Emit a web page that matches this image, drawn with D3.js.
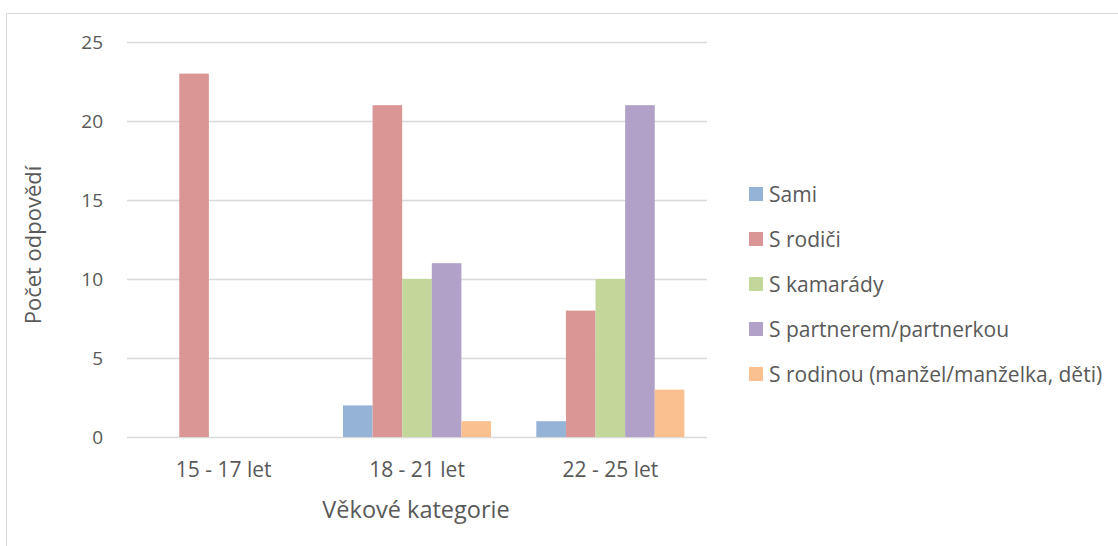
<!DOCTYPE html>
<html>
  <head>
    <meta charset="utf-8">
    <title>Počet odpovědí</title>
    <script src="https://d3js.org/d3.v7.min.js"></script>
    <style>
      body { margin: 0; background: #fff; }
      svg { display: block; font-family: "Open Sans", sans-serif; }
      .tick text { fill: #595959; }
    </style>
  </head>
  <body>
    <svg id="chart" width="1118" height="546"></svg>
    <script>
      // data
      var categories = ["15 - 17 let", "18 - 21 let", "22 - 25 let"];
      var series = ["Sami", "S rodiči", "S kamarády", "S partnerem/partnerkou", "S rodinou (manžel/manželka, děti)"];
      var colours = ["#95b3d7", "#da9694", "#c4d79b", "#b1a0c7", "#fac090"];
      var values = [
        [0, 2, 1],    // Sami
        [23, 21, 8],  // S rodiči
        [0, 10, 10],  // S kamarády
        [0, 11, 21],  // S partnerem/partnerkou
        [0, 1, 3]     // S rodinou
      ];
      var yTicks = [0, 5, 10, 15, 20, 25];

      var chart = d3.select("#chart");
      var margin = { top: 42, left: 127, right: 411, bottom: 109 };
      var width = 1118, height = 546;

      // outer border
      chart.append("rect")
        .attr("x", 6.5).attr("y", 13.5)
        .attr("width", 1130).attr("height", 560)
        .attr("fill", "none")
        .attr("stroke", "#d9d9d9");

      var x0 = d3.scaleBand()
        .domain(categories)
        .range([margin.left, width - margin.right])
        .padding(0);
      var x1 = d3.scaleBand()
        .domain(series)
        .range([0, x0.bandwidth()])
        .paddingInner(0)
        .paddingOuter(0.765);
      var y = d3.scaleLinear()
        .domain([0, 25])
        .range([height - margin.bottom, margin.top]);

      // gridlines
      chart.append("g")
        .selectAll("line")
        .data(yTicks)
        .enter().append("line")
          .attr("x1", margin.left)
          .attr("x2", width - margin.right)
          .attr("y1", function(d) { return Math.round(y(d)) + 0.5; })
          .attr("y2", function(d) { return Math.round(y(d)) + 0.5; })
          .attr("stroke", "#d9d9d9")
          .attr("stroke-width", 1.3);

      // bars
      var rows = [];
      series.forEach(function(s, i) {
        categories.forEach(function(c, j) {
          rows.push({ series: s, cat: c, value: values[i][j], colour: colours[i] });
        });
      });
      chart.append("g")
        .selectAll("rect")
        .data(rows.filter(function(d) { return d.value > 0; }))
        .enter().append("rect")
          .attr("x", function(d) { return x0(d.cat) + x1(d.series); })
          .attr("width", x1.bandwidth())
          .attr("y", function(d) { return y(d.value); })
          .attr("height", function(d) { return y(0) - y(d.value); })
          .attr("fill", function(d) { return d.colour; });

      // axes
      var yAxis = d3.axisLeft(y)
        .tickValues(yTicks)
        .tickSize(0)
        .tickPadding(24);
      chart.append("g")
        .attr("transform", "translate(" + margin.left + ",0)")
        .call(yAxis)
        .attr("font-family", null)
        .call(function(g) { g.select(".domain").remove(); })
        .selectAll("text")
          .style("font-size", "19px")
          .attr("dy", "0.36em");

      var xAxis = d3.axisBottom(x0).tickSize(0).tickPadding(25);
      chart.append("g")
        .attr("transform", "translate(0," + y(0) + ")")
        .call(xAxis)
        .attr("font-family", null)
        .call(function(g) { g.select(".domain").remove(); })
        .selectAll("text")
          .style("font-size", "21px");

      // axis titles
      chart.append("text")
        .attr("x", 416)
        .attr("y", 518)
        .attr("text-anchor", "middle")
        .attr("fill", "#595959")
        .style("font-size", "23.5px")
        .text("Věkové kategorie");
      chart.append("text")
        .attr("transform", "translate(41,245) rotate(-90)")
        .attr("text-anchor", "middle")
        .attr("fill", "#595959")
        .style("font-size", "22px")
        .text("Počet odpovědí");

      // legend
      var legend = chart.append("g")
        .selectAll("g")
        .data(series)
        .enter().append("g")
          .attr("transform", function(d, i) { return "translate(749," + (194 + i * 45) + ")"; });
      legend.append("rect")
        .attr("y", -7)
        .attr("width", 14).attr("height", 14)
        .attr("fill", function(d, i) { return colours[i]; });
      legend.append("text")
        .attr("x", 20)
        .attr("dy", "0.36em")
        .attr("fill", "#595959")
        .style("font-size", "21px")
        .text(function(d) { return d; });
    </script>
  </body>
</html>
